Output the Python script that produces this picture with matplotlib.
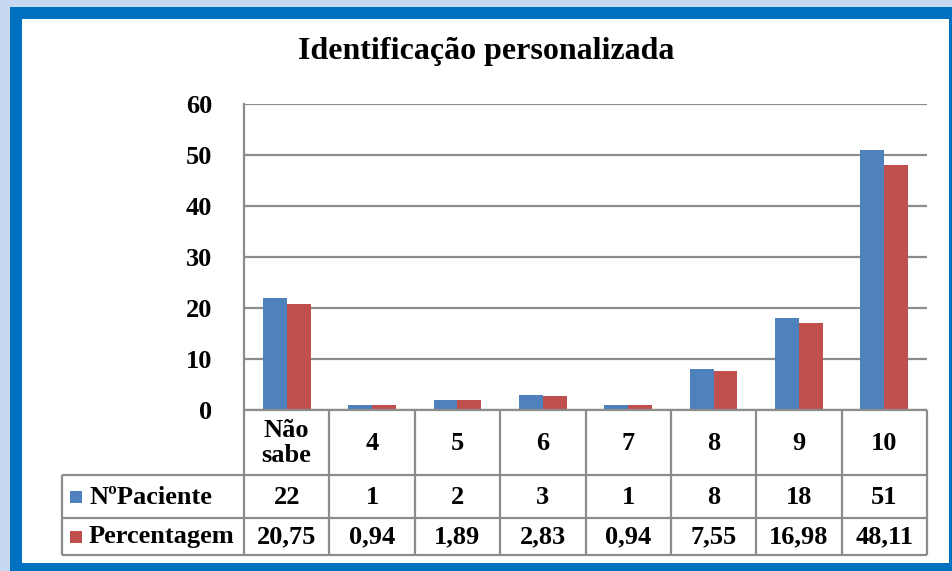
import matplotlib.pyplot as plt
from matplotlib.patches import Rectangle
import numpy as np

categories = ["Não\nsabe", "4", "5", "6", "7", "8", "9", "10"]
pacientes = [22, 1, 2, 3, 1, 8, 18, 51]
percentagem = [20.75, 0.94, 1.89, 2.83, 0.94, 7.55, 16.98, 48.11]
pacientes_labels = ["22", "1", "2", "3", "1", "8", "18", "51"]
percentagem_labels = ["20,75", "0,94", "1,89", "2,83", "0,94", "7,55", "16,98", "48,11"]
series_names = ["NºPaciente", "Percentagem"]
yticks = [0, 10, 20, 30, 40, 50, 60]

BLUE = "#4F81BD"
RED = "#C0504D"
GRID = "#8C8C8C"
FRAME = "#0070C0"
FS = 19

plt.rcParams["font.family"] = ["Liberation Serif", "DejaVu Serif"]
plt.rcParams["font.weight"] = "bold"

W, H = 952, 571
fig = plt.figure(figsize=(W / 100, H / 100), dpi=100)


def fx(px):
    return px / W


def fy(py):
    return 1 - py / H


# blue frame around the chart, drawn in a background axes
bg = fig.add_axes([0, 0, 1, 1], zorder=-5)
bg.set_xlim(0, W)
bg.set_ylim(H, 0)
bg.axis("off")
bg.add_patch(Rectangle((0, 0), W, H, facecolor="#C5D9F1", edgecolor="none"))
bg.add_patch(Rectangle((10, 7), W - 10, H - 7, facecolor=FRAME, edgecolor="none"))
bg.add_patch(Rectangle((22, 19), 949 - 22, 563 - 19, facecolor="white",
                       edgecolor="none"))

# plot area
left, right, top, zero = 244, 927, 104, 410
ax = fig.add_axes([fx(left), fy(zero), fx(right - left), fy(top) - fy(zero)])
ax.patch.set_alpha(0)
n = len(categories)
x = np.arange(n)
w = 0.28
ax.bar(x - w / 2, pacientes, w, color=BLUE, zorder=3)
ax.bar(x + w / 2, percentagem, w, color=RED, zorder=3)
ax.set_xlim(-0.5, n - 0.5)
ax.set_ylim(0, 60)
ax.set_yticks(yticks)
ax.set_yticklabels([str(t) for t in yticks], fontsize=FS, fontweight="bold")
ax.tick_params(axis="y", length=0, pad=23)
ax.set_xticks([])
ax.grid(axis="y", color=GRID, linewidth=1.6, zorder=1)
for s in ["top", "right", "bottom"]:
    ax.spines[s].set_visible(False)
ax.spines["left"].set_color(GRID)
ax.spines["left"].set_linewidth(1.6)

fig.text(fx(486), fy(52), "Identificação personalizada", ha="center",
         va="center", fontsize=23, fontweight="bold")

# data table below the plot
tab = fig.add_axes([fx(62), fy(555), fx(right - 62), fy(410) - fy(555)])
tab.set_xlim(62, right)
tab.set_ylim(555, 410)
tab.axis("off")
colw = (right - left) / n
rows_y = [410, 475, 518, 555]
lk = dict(color=GRID, linewidth=1.6, solid_capstyle="butt", clip_on=False)
tab.plot([left, right], [410, 410], **lk)
for yy in rows_y[1:]:
    tab.plot([62, right], [yy, yy], **lk)
tab.plot([62, 62], [475, 555], **lk)
for i in range(n + 1):
    xx = left + i * colw
    tab.plot([xx, xx], [410, 555], **lk)

for i in range(n):
    cx = left + (i + 0.5) * colw
    tab.text(cx, 443, categories[i], ha="center", va="center", fontsize=FS,
             fontweight="bold", linespacing=1.15)
    tab.text(cx, 497, pacientes_labels[i], ha="center", va="center",
             fontsize=FS, fontweight="bold")
    tab.text(cx, 537, percentagem_labels[i], ha="center", va="center",
             fontsize=FS, fontweight="bold")

for name, col, yc in [(series_names[0], BLUE, 497), (series_names[1], RED, 537)]:
    tab.add_patch(Rectangle((70, yc - 6), 12, 12, facecolor=col, edgecolor="none"))
    tab.text(89, yc, name, ha="left", va="center", fontsize=FS, fontweight="bold")

fig.savefig("out.png", dpi=100)
